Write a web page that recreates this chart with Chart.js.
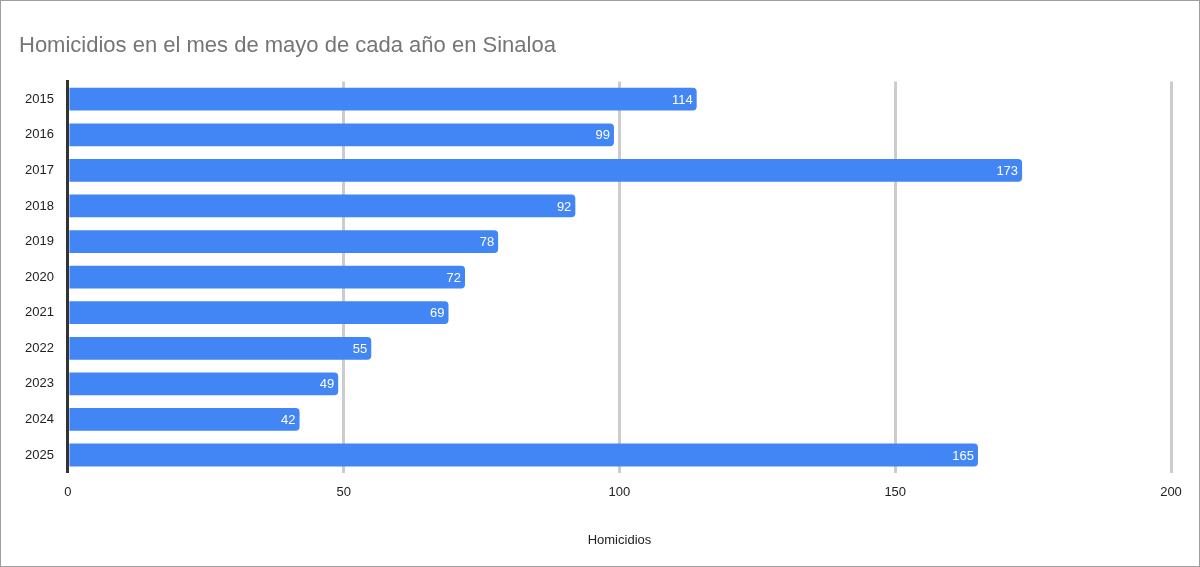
<!DOCTYPE html>
<html><head><meta charset="utf-8">
<script src="https://cdn.jsdelivr.net/npm/chart.js@4"></script>
<style>
html,body{margin:0;padding:0;background:#fff;}
#wrap{position:absolute;left:0;top:0;width:1198px;height:565px;border:1px solid #9e9e9e;}
</style></head><body>
<div id="wrap"><canvas id="c"></canvas></div>
<script>
const years = ['2015','2016','2017','2018','2019','2020','2021','2022','2023','2024','2025'];
const homicidios = [114,99,173,92,78,72,69,55,49,42,165];
const xTicks = [0,50,100,150,200];

const labelPlugin = {
  id:'lbl',
  afterDatasetsDraw(chart){
    const ctx = chart.ctx;
    const meta = chart.getDatasetMeta(0);
    ctx.save();
    ctx.font = '13px Arial, "Liberation Sans", sans-serif';
    ctx.fillStyle = '#ffffff';
    ctx.textAlign = 'right';
    ctx.textBaseline = 'middle';
    meta.data.forEach((b,i)=>{ ctx.fillText(String(homicidios[i]), b.x-4, b.y+1); });
    ctx.restore();
  }
};

new Chart(document.getElementById('c'),{
  type:'bar',
  data:{labels:years,datasets:[{data:homicidios,backgroundColor:'#4285f4',borderRadius:4,borderSkipped:'start',categoryPercentage:1,barPercentage:0.64}]},
  options:{
    indexAxis:'y',responsive:true,maintainAspectRatio:false,animation:false,
    layout:{padding:{left:18,right:28,top:4,bottom:14}},
    plugins:{legend:{display:false},tooltip:{enabled:false},
      title:{display:true,text:'Homicidios en el mes de mayo de cada año en Sinaloa',align:'start',color:'#757575',
        font:{family:'Arial, "Liberation Sans", sans-serif',size:22,weight:'normal'},padding:{top:28,bottom:22}}},
    scales:{
      x:{min:0,max:200,afterBuildTicks(a){a.ticks=xTicks.map(v=>({value:v}));},
        grid:{color:'#cccccc',lineWidth:3,drawTicks:false},border:{display:false},
        ticks:{color:'#222',padding:12,font:{family:'Arial, "Liberation Sans", sans-serif',size:13}},
        title:{display:true,text:'Homicidios',color:'#222',padding:{top:20},font:{family:'Arial, "Liberation Sans", sans-serif',size:13}}},
      y:{grid:{display:false},border:{display:true,color:'#333',width:3},
        ticks:{color:'#222',padding:6,font:{family:'Arial, "Liberation Sans", sans-serif',size:13}}}
    }
  },
  plugins:[labelPlugin]
});
</script></body></html>
